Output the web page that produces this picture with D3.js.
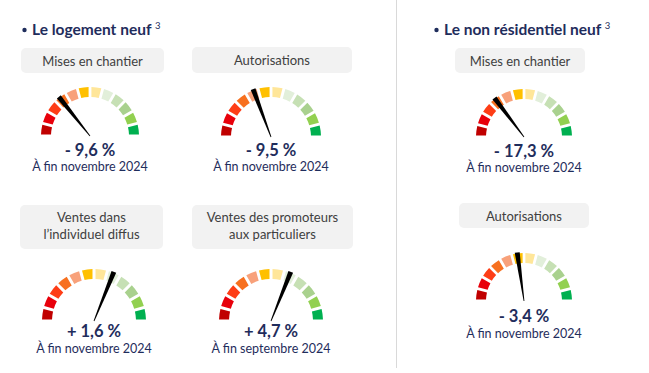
<!DOCTYPE html>
<html>
<head>
<meta charset="utf-8">
<script src="https://cdn.jsdelivr.net/npm/d3@7"></script>
<style>
  body { margin: 0; background: #ffffff; }
  svg { display: block; font-family: Lato, "Open Sans", sans-serif; }
</style>
</head>
<body>
<div id="vis-container"></div>
<script>
// section titles
var sections = ["Le logement neuf", "Le non résidentiel neuf"];

// one entry per gauge
var labels = [
	["Mises en chantier"],
	["Autorisations"],
	["Mises en chantier"],
	["Ventes dans", "l\u2019individuel diffus"],
	["Ventes des promoteurs", "aux particuliers"],
	["Autorisations"]
];
var values = [-9.6, -9.5, -17.3, 1.6, 4.7, -3.4];
var periods = ["À fin novembre 2024", "À fin novembre 2024", "À fin novembre 2024",
	"À fin novembre 2024", "À fin septembre 2024", "À fin novembre 2024"];
// needle position on the 12 colour bands (0 = far left, 12 = far right)
var needles = [3.43, 4.63, 3.53, 7.47, 7.46, 5.47];

// colour bands, red to green
var bands = ["#c00000", "#e8000b", "#fe3d16", "#f7701f", "#f8a17a", "#ffc000",
	"#ffe699", "#e2efda", "#c6e0b4", "#a9d18e", "#92d050", "#00b050"];

var width = 649;
var height = 373;
var navy = "#1f2d5c";

// where each panel sits
var layout = [
	{cx: 90, cy: 136, r: 49, box: [21, 48, 143, 25], vy: 156, dy: 171},
	{cx: 271, cy: 137, r: 50, box: [192, 47, 160, 26], vy: 156, dy: 171},
	{cx: 524, cy: 137, r: 48, box: [455, 48, 130, 25], vy: 157, dy: 172},
	{cx: 94, cy: 321, r: 52, box: [20, 205, 143, 44], vy: 337, dy: 353},
	{cx: 271, cy: 321, r: 52, box: [192, 205, 161, 44], vy: 337, dy: 353},
	{cx: 524, cy: 301, r: 48, box: [459, 203, 130, 25], vy: 322, dy: 338}
];
var sectionPos = [{x: 22, y: 35}, {x: 434, y: 35}];

var svg = d3.select("#vis-container")
	.append("svg")
	.attr("width", width)
	.attr("height", height);

// separator between the two sections
svg.append("line")
	.attr("x1", 396.5).attr("x2", 396.5)
	.attr("y1", 0).attr("y2", 368)
	.attr("stroke", "#d9d9d9")
	.attr("stroke-width", 1);

// section titles
sections.forEach(function (s, i) {
	svg.append("circle")
		.attr("cx", sectionPos[i].x + 2.5)
		.attr("cy", sectionPos[i].y - 5)
		.attr("r", 2.2)
		.attr("fill", navy);
	var t = svg.append("text")
		.attr("x", sectionPos[i].x + 10)
		.attr("y", sectionPos[i].y)
		.attr("fill", navy)
		.attr("font-weight", "bold")
		.attr("font-size", 15.5);
	t.append("tspan").text(s + " ");
	t.append("tspan").attr("dy", -6).attr("font-size", 9.5).attr("font-weight", "normal").text("3");
});

var angle = d3.scaleLinear().domain([0, bands.length]).range([-Math.PI / 2, Math.PI / 2]);

function fmt(v) {
	var s = v < 0 ? "- " : "+ ";
	return s + d3.format(".1f")(Math.abs(v)).replace(".", ",") + " %";
}

for (var i = 0; i < values.length; ++i) {
	var L = layout[i];
	var g = svg.append("g");

	// label box
	g.append("rect")
		.attr("x", L.box[0]).attr("y", L.box[1])
		.attr("width", L.box[2]).attr("height", L.box[3])
		.attr("rx", 5)
		.attr("fill", "#f2f2f2");
	var lines = labels[i];
	var bx = L.box[0] + L.box[2] / 2;
	lines.forEach(function (line, k) {
		g.append("text")
			.attr("x", bx)
			.attr("y", L.box[1] + (lines.length == 1 ? 17.5 : 17 + k * 17))
			.attr("text-anchor", "middle")
			.attr("font-size", 13)
			.attr("fill", "#404040")
			.text(line);
	});

	// gauge bands
	var arc = d3.arc()
		.innerRadius(L.r - 10)
		.outerRadius(L.r)
		.padAngle(0.045);
	var gauge = g.append("g").attr("transform", "translate(" + L.cx + "," + L.cy + ")");
	gauge.selectAll("path.band")
		.data(bands)
		.enter().append("path")
		.attr("class", "band")
		.attr("d", function (d, k) { return arc({startAngle: angle(k), endAngle: angle(k + 1)}); })
		.attr("fill", function (d) { return d; });

	// needle: thin wedge, widest at the band
	var a = angle(needles[i]) * 180 / Math.PI;
	gauge.append("path")
		.attr("d", "M-0.4,0 L0.4,0 L2.5," + (-L.r - 1) + " L-2.5," + (-L.r - 1) + "Z")
		.attr("transform", "rotate(" + a + ")")
		.attr("fill", "#000");

	// value and period
	g.append("text")
		.attr("x", L.cx).attr("y", L.vy)
		.attr("text-anchor", "middle")
		.attr("font-size", 16.5)
		.attr("font-weight", "bold")
		.attr("fill", navy)
		.text(fmt(values[i]));
	g.append("text")
		.attr("x", L.cx).attr("y", L.dy)
		.attr("text-anchor", "middle")
		.attr("font-size", 12.5)
		.attr("fill", navy)
		.text(periods[i]);
}
</script>
</body>
</html>
